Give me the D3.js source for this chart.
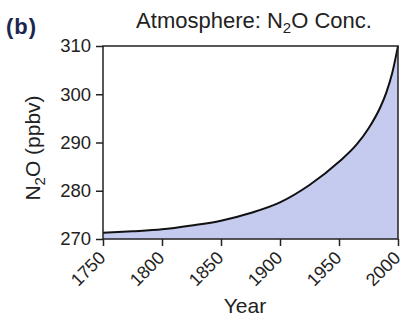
<!DOCTYPE html>
<html>
<head>
<meta charset="utf-8">
<script src="https://cdn.jsdelivr.net/npm/d3@7"></script>
<style>
  body { margin: 0; background: #fff; overflow: hidden; }
  text { font-family: "Liberation Sans", Arial, sans-serif; fill: #222; }
</style>
</head>
<body>
<svg id="chart" width="404" height="324"></svg>
<script>
// N2O concentration (ppbv)
const years = [1750, 1775, 1800, 1825, 1850, 1875, 1900, 1925, 1950, 1965, 1975, 1985, 1990, 1995, 2000];
const conc  = [271.3, 271.6, 272.0, 272.8, 273.8, 275.4, 277.6, 281.2, 286.0, 289.6, 292.9, 297.3, 300.3, 304.3, 310.0];
const xTicks = [1750, 1800, 1850, 1900, 1950, 2000];
const yTicks = [270, 280, 290, 300, 310];

const data = years.map((yr, i) => ({ year: yr, value: conc[i] }));

const svg = d3.select("#chart");
const mLeft = 103, mRight = 398, mTop = 46, mBottom = 239;

const x = d3.scaleLinear().domain([1750, 2000]).range([mLeft, mRight]);
const y = d3.scaleLinear().domain([270, 310]).range([mBottom, mTop]);

const curve = d3.curveMonotoneX;

svg.append("path")
  .datum(data)
  .attr("fill", "#c5cbef")
  .attr("d", d3.area().x(d => x(d.year)).y0(y(270)).y1(d => y(d.value)).curve(curve));

svg.append("path")
  .datum(data)
  .attr("fill", "none")
  .attr("stroke", "#111")
  .attr("stroke-width", 2)
  .attr("d", d3.line().x(d => x(d.year)).y(d => y(d.value)).curve(curve));

// frame
svg.append("rect")
  .attr("x", mLeft).attr("y", mTop)
  .attr("width", mRight - mLeft).attr("height", mBottom - mTop)
  .attr("fill", "none").attr("stroke", "#222").attr("stroke-width", 1.5);

const yAxis = svg.append("g")
  .attr("transform", `translate(${mLeft},0)`)
  .call(d3.axisLeft(y).tickValues(yTicks).tickSize(7).tickPadding(5));
yAxis.select(".domain").remove();
yAxis.selectAll("line").attr("stroke", "#222").attr("stroke-width", 1.5);
yAxis.selectAll("text").style("font-size", "18.5px").attr("fill", "#222");

const xAxis = svg.append("g")
  .attr("transform", `translate(0,${mBottom})`)
  .call(d3.axisBottom(x).tickValues(xTicks).tickFormat(d3.format("d")).tickSize(7));
xAxis.select(".domain").remove();
xAxis.selectAll("line").attr("stroke", "#222").attr("stroke-width", 1.5);
xAxis.selectAll("text")
  .style("font-size", "18px")
  .attr("fill", "#222")
  .attr("text-anchor", "end")
  .attr("x", 0).attr("y", 0).attr("dy", null)
  .attr("transform", "translate(3,20) rotate(-45)");

svg.append("text")
  .attr("x", 6).attr("y", 34)
  .style("font-size", "22px").style("font-weight", "bold")
  .style("letter-spacing", "1px")
  .style("fill", "#1c2650")
  .text("(b)");

const title = svg.append("text")
  .attr("x", 254).attr("y", 27.5)
  .attr("text-anchor", "middle")
  .style("font-size", "22px");
title.append("tspan").text("Atmosphere: N");
title.append("tspan").attr("dy", 5).style("font-size", "15px").text("2");
title.append("tspan").attr("dy", -5).text("O Conc.");

const ylab = svg.append("text")
  .attr("transform", `translate(40,148) rotate(-90)`)
  .attr("text-anchor", "middle")
  .style("font-size", "21px");
ylab.append("tspan").text("N");
ylab.append("tspan").attr("dy", 5).style("font-size", "15px").text("2");
ylab.append("tspan").attr("dy", -5).text("O (ppbv)");

svg.append("text")
  .attr("x", 245).attr("y", 313)
  .attr("text-anchor", "middle")
  .style("font-size", "21px")
  .text("Year");
</script>
</body>
</html>
